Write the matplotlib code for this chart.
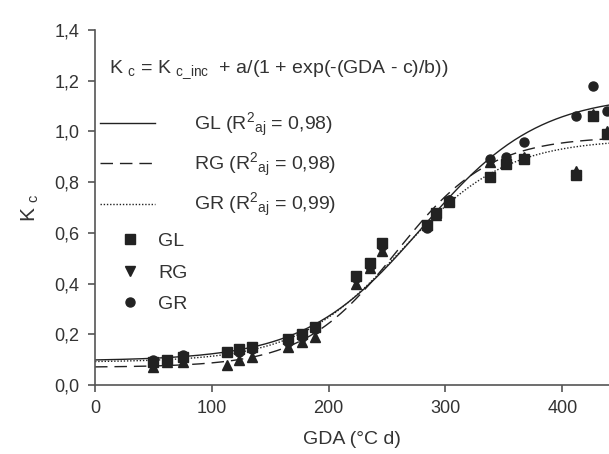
import numpy as np
import matplotlib
matplotlib.use("Agg")
import matplotlib.pyplot as plt
from matplotlib.lines import Line2D

plt.rcParams["font.family"] = ["Liberation Sans", "DejaVu Sans"]
plt.rcParams["mathtext.fontset"] = "custom"
plt.rcParams["mathtext.rm"] = "Liberation Sans"
plt.rcParams["mathtext.it"] = "Liberation Sans"

# ---------- data ----------
gda = [50, 62, 75, 113, 123, 134, 165, 177, 188, 223, 235, 246,
       284, 292, 303, 338, 352, 367, 412, 426, 438]
kc_gl = [0.09, 0.10, 0.11, 0.13, 0.14, 0.15, 0.18, 0.20, 0.23, 0.43, 0.48, 0.56,
         0.63, 0.68, 0.72, 0.82, 0.87, 0.89, 0.83, 1.06, 0.99]
kc_rg = [0.07, 0.09, 0.09, 0.08, 0.10, 0.11, 0.15, 0.17, 0.19, 0.40, 0.46, 0.53,
         0.63, 0.67, 0.73, 0.88, 0.89, 0.90, 0.845, 1.07, 1.00]
kc_gr = [0.10, 0.10, 0.12, 0.13, 0.13, 0.14, 0.17, 0.19, 0.22, 0.42, 0.47, 0.55,
         0.62, 0.68, 0.73, 0.89, 0.90, 0.96, 1.06, 1.18, 1.08]

# fitted logistic parameters (Kc_inc, a, c, b) per treatment
params = {
    "GL": (0.095, 1.05, 280, 50),
    "RG": (0.07, 0.91, 258, 40),
    "GR": (0.09, 0.88, 262, 45),
}
r2 = {"GL": "0,98", "RG": "0,98", "GR": "0,99"}
styles = {"GL": "-", "RG": (0, (9, 5)), "GR": (0, (1, 1.3))}
# ---------------------------------------------

def logistic(x, k0, a, c, b):
    return k0 + a / (1 + np.exp(-(x - c) / b))

ink = "#222222"
txt = "#333333"
fig = plt.figure(figsize=(6.09, 4.54), dpi=100)
ax = fig.add_axes([0.156, 0.152, 0.844, 0.782])

xx = np.linspace(0, 440, 300)
line_handles = []
for name in ["GL", "RG", "GR"]:
    ln, = ax.plot(xx, logistic(xx, *params[name]), color=ink, lw=1.0,
                  linestyle=styles[name])
    line_handles.append(ln)

ms = 6.5
ax.plot(gda, kc_gl, "s", color=ink, ms=ms, clip_on=False)
ax.plot(gda, kc_rg, "^", color=ink, ms=ms, clip_on=False)
ax.plot(gda, kc_gr, "o", color=ink, ms=ms, clip_on=False)

ax.set_xlim(0, 440)
ax.set_ylim(0, 1.4)
ax.set_xticks([0, 100, 200, 300, 400])
yt = np.arange(0, 1.41, 0.2)
ax.set_yticks(yt)
ax.set_yticklabels([f"{v:.1f}".replace(".", ",") for v in yt])
for s in ["top", "right"]:
    ax.spines[s].set_visible(False)
for s in ["left", "bottom"]:
    ax.spines[s].set_color("#555555")
    ax.spines[s].set_linewidth(1.2)
ax.tick_params(direction="out", length=5, width=1.2, color="#555555",
               labelsize=13, labelcolor=txt, pad=6)
ax.set_xlabel("GDA (°C d)", fontsize=14, color=txt, labelpad=10)
ax.set_ylabel(r"K $_{\mathregular{c}}$", fontsize=15, color=txt, labelpad=10)

ax.text(0.027, 0.887,
        r"K $_{\mathregular{c}}$ = K $_{\mathregular{c\_inc}}$  + a/(1 + exp(-(GDA - c)/b))",
        transform=ax.transAxes, fontsize=14, color=txt, va="center", ha="left")

labels = [rf"{n} (R$^{{\mathregular{{2}}}}$$_{{\mathregular{{aj}}}}$ = {r2[n]})"
          for n in ["GL", "RG", "GR"]]
leg1 = ax.legend(line_handles, labels, loc="upper left",
                 bbox_to_anchor=(0.0097, 0.772), frameon=False, fontsize=14,
                 handlelength=2.83, handletextpad=2.0, labelspacing=0.62,
                 borderpad=0, borderaxespad=0)
plt.setp(leg1.get_texts(), color=txt)
ax.add_artist(leg1)

mk_handles = [Line2D([], [], marker=m, color=ink, ls="none", ms=ms)
              for m in ["s", "v", "o"]]
leg2 = ax.legend(mk_handles, ["GL", "RG", "GR"], loc="upper left",
                 bbox_to_anchor=(0.049, 0.43), frameon=False, fontsize=14,
                 handlelength=1.0, handletextpad=0.94, labelspacing=0.72,
                 borderpad=0, borderaxespad=0)
plt.setp(leg2.get_texts(), color=txt)

fig.savefig("out.png", dpi=100)
